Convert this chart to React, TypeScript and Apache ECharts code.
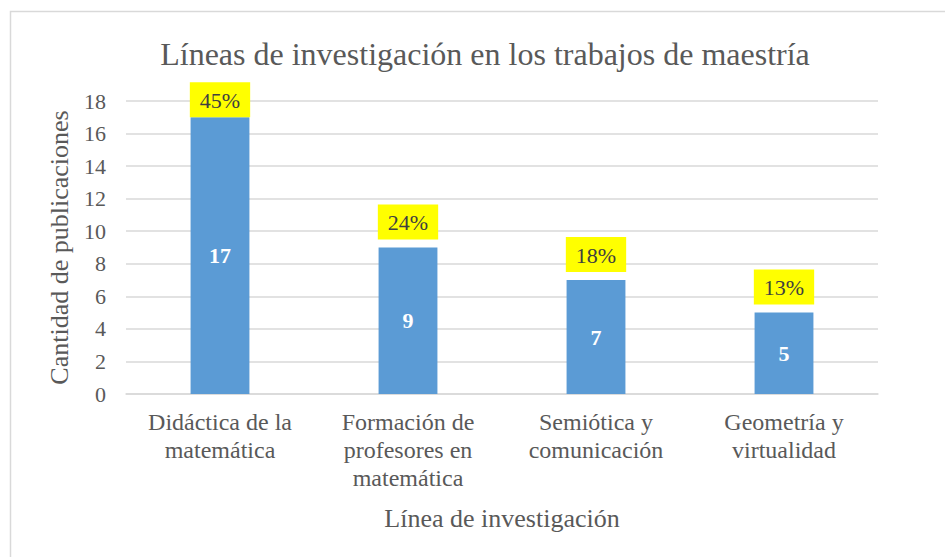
import React, { useEffect, useRef } from "react";
import * as echarts from "echarts";

const categories = [
  "Didáctica de la\nmatemática",
  "Formación de\nprofesores en\nmatemática",
  "Semiótica y\ncomunicación",
  "Geometría y\nvirtualidad",
];
const counts = [17, 9, 7, 5];
const percents = ["45%", "24%", "18%", "13%"];
const yTicks = { min: 0, max: 18, interval: 2 };

const FONT = "'Liberation Serif', 'Times New Roman', serif";
const TEXT = "#595959";

export default function App() {
  const ref = useRef<HTMLDivElement>(null);
  useEffect(() => {
    if (!ref.current) return;
    const chart = echarts.init(ref.current, null, { renderer: "svg" });
    chart.setOption({
      animation: false,
      backgroundColor: "#ffffff",
      textStyle: { fontFamily: FONT },
      title: {
        text: "Líneas de investigación en los trabajos de maestría",
        left: 480,
        top: 33,
        textAlign: "center",
        textStyle: { fontFamily: FONT, fontSize: 32, fontWeight: "normal", color: TEXT },
      },
      graphic: [
        {
          type: "rect",
          shape: { x: 10.5, y: 11.5, width: 1200, height: 1200 },
          style: { fill: "none", stroke: "#D9D9D9", lineWidth: 1.5 },
          silent: true,
          z: -1,
        },
      ],
      grid: { left: 126, right: 67, top: 101, bottom: 163, containLabel: false },
      xAxis: {
        type: "category",
        data: categories,
        name: "Línea de investigación",
        nameLocation: "middle",
        nameGap: 111,
        nameTextStyle: { fontFamily: FONT, fontSize: 26, color: TEXT },
        axisLine: { show: true, lineStyle: { color: "#D9D9D9", width: 1.5 } },
        axisTick: { show: false },
        axisLabel: {
          interval: 0,
          margin: 14,
          fontFamily: FONT,
          fontSize: 24,
          lineHeight: 28,
          color: TEXT,
        },
      },
      yAxis: {
        type: "value",
        min: yTicks.min,
        max: yTicks.max,
        interval: yTicks.interval,
        name: "Cantidad de publicaciones",
        nameLocation: "middle",
        nameGap: 54,
        nameTextStyle: { fontFamily: FONT, fontSize: 26, color: TEXT },
        axisLine: { show: false },
        axisTick: { show: false },
        splitLine: { lineStyle: { color: "#D9D9D9", width: 1.5 } },
        axisLabel: { margin: 20, fontFamily: FONT, fontSize: 22, color: TEXT },
      },
      series: [
        {
          type: "bar",
          data: counts,
          barWidth: "31.3%",
          itemStyle: { color: "#5B9BD5" },
          label: {
            show: true,
            position: "inside",
            fontFamily: FONT,
            fontSize: 22,
            fontWeight: "bold",
            color: "#ffffff",
          },
          z: 2,
        },
        {
          type: "bar",
          data: counts.map((v, i) => ({
            value: v,
            label: { distance: i === 0 ? 0 : 8 },
          })),
          barWidth: "31.3%",
          barGap: "-100%",
          itemStyle: { color: "rgba(0,0,0,0)" },
          label: {
            show: true,
            position: "top",
            formatter: (p: any) => percents[p.dataIndex],
            fontFamily: FONT,
            fontSize: 22,
            color: "#404040",
            backgroundColor: "#FFFF00",
            padding: [7, 10, 6, 10],
          },
          z: 3,
        },
      ],
    });
    return () => chart.dispose();
  }, []);
  return (
    <div
      ref={ref}
      style={{ position: "absolute", left: 0, top: 0, width: 945, height: 557 }}
    />
  );
}
